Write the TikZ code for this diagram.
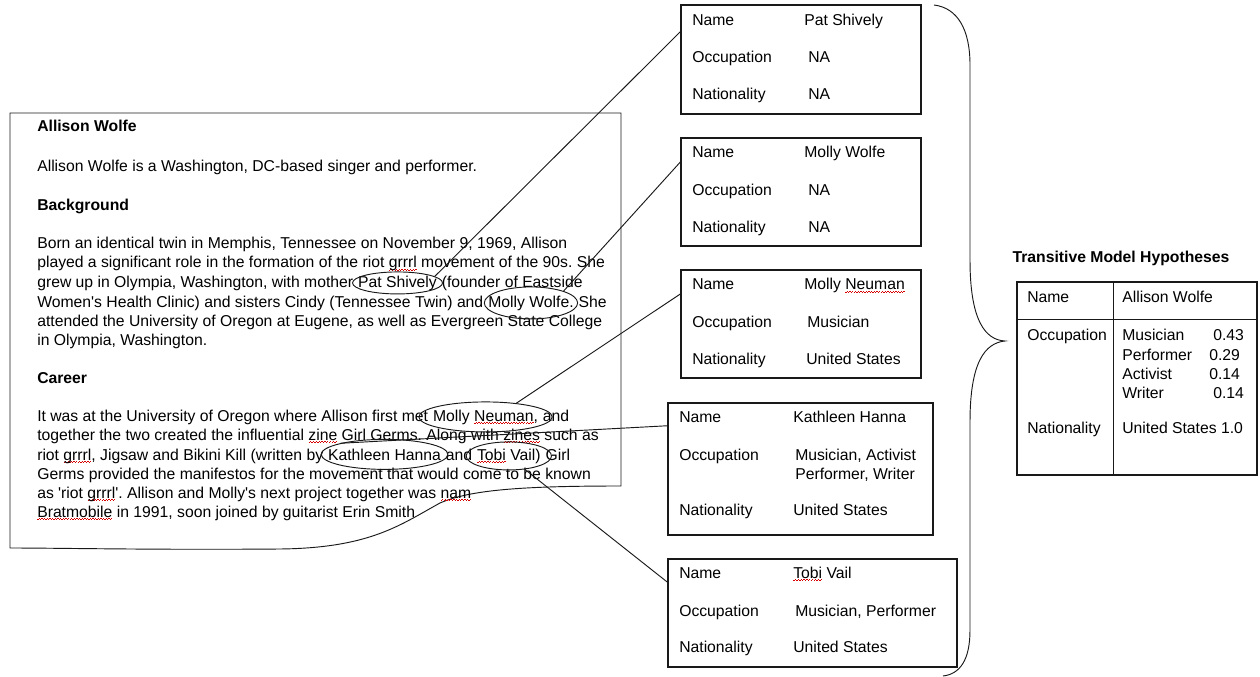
\documentclass[tikz,border=0pt]{standalone}
\usepackage{fontspec}
\setmainfont{Liberation Sans}
\usetikzlibrary{shapes.geometric}
\frenchspacing
% red wavy underline of the spell checker
\newsavebox\spellbox
\newcommand\spell[1]{\sbox\spellbox{#1}\rlap{\color{red!85!black}\lower2.2pt\hbox to\wd\spellbox{\xleaders\hbox to 2pt{\vrule width 1pt height 0.4pt\raise0.7pt\hbox{\vrule width 1pt height 0.4pt}}\hfil}}\usebox\spellbox}

\begin{document}
\begin{tikzpicture}[x=0.75pt, y=-0.75pt]
	\tikzstyle{txt} = [anchor=base west, inner sep=0, font=\fontsize{11.8}{14}\selectfont]
	\tikzstyle{head} = [txt, font=\fontsize{11.8}{14}\selectfont\bfseries]
	\tikzstyle{cont} = [txt, xshift=3.3pt]
	\tikzstyle{oval} = [ellipse, draw=black!90, line width=0.7pt, inner sep=0]
	\tikzstyle{box} = [rectangle, draw=black!90, line width=0.9pt, inner sep=0]
	\tikzstyle{link} = [draw=black!90, line width=0.7pt]
	\useasboundingbox (0,0) rectangle (1260,677);
	% article
	\draw[link] (10,113) -- (621,113) -- (621,486) .. controls (520,486) and (470,490) .. (440,503) .. controls (400,525) and (370,548) .. (280,549) .. controls (150,550) and (60,548) .. (10,548) -- cycle;
	\node[head](title)at (37,132){Allison Wolfe};
	\node[txt](intro)at (37,172){Allison Wolfe is a Washington, DC-based singer and performer.};
	\node[head](bg)at (37,211){Background};
	\node[txt](l1)at (37,249){Born an identical twin in Memphis, Tennessee on November 9, 1969, Allison};
	\node[txt](l2)at (37,268){played a significant role in the formation of the riot \spell{grrrl} movement of the 90s. She};
	\node[txt](l3)at (37,287){grew up in Olympia, Washington, with mother};
	\node[cont](patw)at (l3.base east){Pat Shively};
	\node[cont](l3b)at (patw.base east){(founder of Eastside};
	\node[txt](l4)at (37,307){Women\textquotesingle s Health Clinic) and sisters Cindy (Tennessee Twin) and};
	\node[cont](wolfew)at (l4.base east){Molly Wolfe.};
	\node[cont](l4b)at (wolfew.base east){She};
	\node[txt](l5)at (37,326){attended the University of Oregon at Eugene, as well as Evergreen State College};
	\node[txt](l6)at (37,345){in Olympia, Washington.};
	\node[head](career)at (37,383){Career};
	\node[txt](l7)at (37,421){It was at the University of Oregon where Allison first met};
	\node[cont](neumanw)at (l7.base east){Molly \spell{Neuman},};
	\node[cont](l7b)at (neumanw.base east){and};
	\node[txt](l8)at (37,440){together the two created the influential \spell{zine} Girl Germs. Along with \spell{zines} such as};
	\node[txt](l9)at (37,460){riot \spell{grrrl}, Jigsaw and Bikini Kill (written by};
	\node[cont](kathw)at (l9.base east){Kathleen Hanna};
	\node[cont](l9b)at (kathw.base east){and};
	\node[cont](tobiw)at (l9b.base east){\spell{Tobi} Vail)};
	\node[cont](l9c)at (tobiw.base east){Girl};
	\node[txt](l10)at (37,479){Germs provided the manifestos for the movement that would come to be known};
	\node[txt](l11)at (37,498){as \textquotesingle riot \spell{grrrl}\textquotesingle. Allison and Molly\textquotesingle s next project together was \spell{nam}};
	\node[txt](l12)at (37,517){\spell{Bratmobile} in 1991, soon joined by guitarist Erin Smith};
	% circled names
	\node[oval, minimum width=67.5pt, minimum height=16.5pt](pat)at (patw.center){};
	\node[oval, minimum width=70pt, minimum height=24pt](wolfe)at (wolfew.center){};
	\node[oval, minimum width=100pt, minimum height=22.5pt](neuman)at (neumanw.center){};
	\node[oval, minimum width=95pt, minimum height=22.5pt](kath)at (kathw.center){};
	\node[oval, minimum width=64pt, minimum height=21pt](tobi)at (tobiw.center){};
	% entity records
	\node[box, minimum width=180pt, minimum height=81.75pt](patbox)at (801,59.5){};
	\node[txt](patn)at (692,26){Name};
	\node[txt](patnv)at (804,26){Pat Shively};
	\node[txt](pato)at (692,63){Occupation};
	\node[txt](patov)at (808,63){NA};
	\node[txt](patc)at (692,100){Nationality};
	\node[txt](patcv)at (808,100){NA};
	\node[box, minimum width=180pt, minimum height=81pt](wolfebox)at (801,192){};
	\node[txt](wolfen)at (692,158){Name};
	\node[txt](wolfenv)at (804,158){Molly Wolfe};
	\node[txt](wolfeo)at (692,196){Occupation};
	\node[txt](wolfeov)at (808,196){NA};
	\node[txt](wolfec)at (692,233){Nationality};
	\node[txt](wolfecv)at (808,233){NA};
	\node[box, minimum width=180pt, minimum height=81pt](neumanbox)at (801,324){};
	\node[txt](neumann)at (692,290){Name};
	\node[txt](neumannv)at (804,290){Molly \spell{Neuman}};
	\node[txt](neumano)at (692,327){Occupation};
	\node[txt](neumanov)at (807,327){Musician};
	\node[txt](neumanc)at (692,364){Nationality};
	\node[txt](neumancv)at (806,364){United States};
	\node[box, minimum width=198.75pt, minimum height=99pt](kathbox)at (800.5,469){};
	\node[txt](kathn)at (679,422){Name};
	\node[txt](kathnv)at (793,422){Kathleen Hanna};
	\node[txt](katho)at (679,460){Occupation};
	\node[txt](kathov)at (795,460){Musician, Activist};
	\node[txt](kathov2)at (795,479){Performer, Writer};
	\node[txt](kathc)at (679,515){Nationality};
	\node[txt](kathcv)at (793,515){United States};
	\node[box, minimum width=216.75pt, minimum height=81pt](tobibox)at (812.5,613){};
	\node[txt](tobin)at (679,578){Name};
	\node[txt](tobinv)at (793,578){\spell{Tobi} Vail};
	\node[txt](tobio)at (679,616){Occupation};
	\node[txt](tobiov)at (795,616){Musician, Performer};
	\node[txt](tobic)at (679,652){Nationality};
	\node[txt](tobicv)at (793,652){United States};
	\path[link] (pat.10) edge (patbox.167)
	(wolfe.20) edge (wolfebox.166)
	(neuman.24) edge (neumanbox.166)
	(kath.166) edge (kathbox.162)
	(tobi.320) edge (tobibox.168);
	% brace
	\draw[link] (934,5) .. controls (958,8) and (970,30) .. (970,65) -- (970,260) .. controls (970,320) and (985,340) .. (1005,341) .. controls (985,343) and (970,362) .. (970,422) -- (970,630) .. controls (970,660) and (960,674) .. (943,676);
	% merged hypotheses
	\node[head, anchor=base](hyp)at (1121,263){Transitive Model Hypotheses};
	\node[box, minimum width=180pt, minimum height=144.75pt](tbl)at (1137,378.5){};
	\draw[link] (1017,319) -- (1257,319);
	\draw[link] (1113,282) -- (1113,475);
	\node[txt](tbln)at (1027,303){Name};
	\node[txt](tblnv)at (1122,303){Allison Wolfe};
	\node[txt](tblo)at (1027,340){Occupation};
	\node[txt](tblo1)at (1122,340){Musician};
	\node[txt](tblp1)at (1213,340){0.43};
	\node[txt](tblo2)at (1122,360){Performer};
	\node[txt](tblp2)at (1209,360){0.29};
	\node[txt](tblo3)at (1122,379){Activist};
	\node[txt](tblp3)at (1209,379){0.14};
	\node[txt](tblo4)at (1122,398){Writer};
	\node[txt](tblp4)at (1213,398){0.14};
	\node[txt](tblc)at (1027,433){Nationality};
	\node[txt](tblcv)at (1122,433){United States 1.0};
\end{tikzpicture}
\end{document}
